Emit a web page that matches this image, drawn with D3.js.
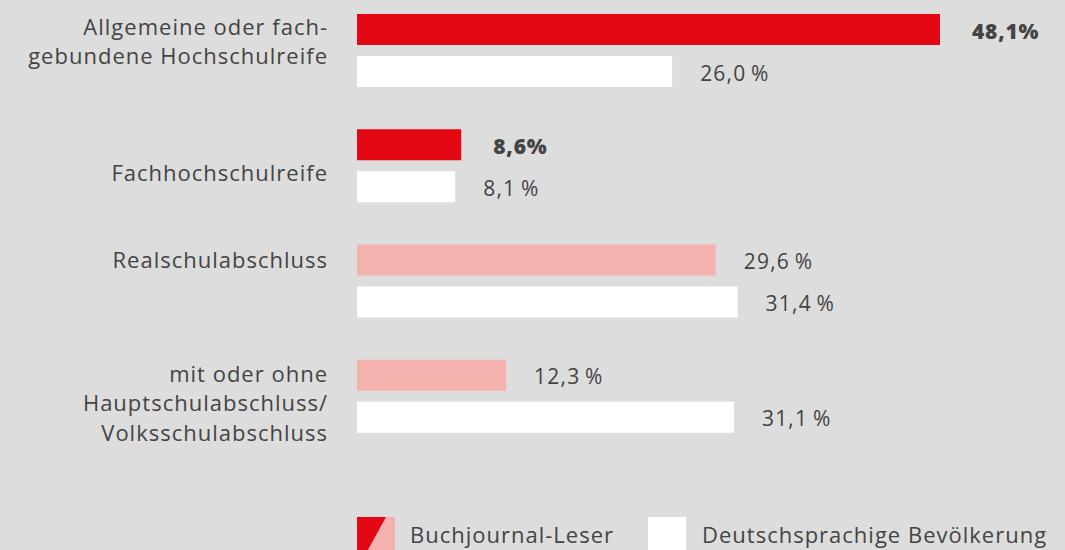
<!DOCTYPE html>
<html>
<head>
<meta charset="utf-8">
<script src="https://cdn.jsdelivr.net/npm/d3@7"></script>
<style>
  html, body { margin: 0; padding: 0; background: #dddddd; }
  svg { display: block; font-family: "Open Sans", sans-serif; }
</style>
</head>
<body>
<svg id="chart"></svg>
<script>
// Bildungsabschluss: Buchjournal-Leser vs. deutschsprachige Bevölkerung
const categories = [
  ["Allgemeine oder fach-", "gebundene Hochschulreife"],
  ["Fachhochschulreife"],
  ["Realschulabschluss"],
  ["mit oder ohne", "Hauptschulabschluss/", "Volksschulabschluss"]
];
const leserValues = [48.1, 8.6, 29.6, 12.3];
const bevoelkerungValues = [26.0, 8.1, 31.4, 31.1];
const highlighted = [true, true, false, false];
const seriesNames = ["Buchjournal-Leser", "Deutschsprachige Bevölkerung"];

const WIDTH = 1065;
const HEIGHT = 550;
const RED = '#e30613';
const PINK = '#f5b1ae';
const WHITE = '#ffffff';
const TEXT = '#444444';
const BAR_H = 31;
const LINE_H = 29.5;
// the labels in the original are not all centred on their group
const labelShift = [-9, 7, -21, 7];

const svg = d3.select('#chart')
  .attr('width', WIDTH)
  .attr('height', HEIGHT)
  .attr('viewBox', `0 0 ${WIDTH} ${HEIGHT}`);

const x = d3.scaleLinear()
  .domain([0, d3.max(leserValues)])
  .range([357, 940]);

const y = d3.scaleBand()
  .domain(d3.range(categories.length))
  .range([14, 475])
  .paddingInner(0);

const ySub = d3.scaleBand()
  .domain([0, 1])
  .range([0, 73])
  .paddingInner(11 / 42);

const fmt = (v, bold) => d3.format('.1f')(v).replace('.', ',') + (bold ? '' : '\u2009') + '%';

const rows = [];
categories.forEach((c, i) => {
  rows.push({group: i, series: 0, value: leserValues[i],
    fill: highlighted[i] ? RED : PINK, bold: highlighted[i]});
  rows.push({group: i, series: 1, value: bevoelkerungValues[i],
    fill: WHITE, bold: false});
});

const barY = d => y(d.group) + ySub(d.series);

// bars
svg.append('g')
  .selectAll('rect')
  .data(rows)
  .join('rect')
  .attr('x', x(0))
  .attr('y', barY)
  .attr('width', d => x(d.value) - x(0))
  .attr('height', BAR_H)
  .attr('fill', d => d.fill);

// value labels
svg.append('g')
  .selectAll('text')
  .data(rows)
  .join('text')
  .attr('x', d => x(d.value) + (d.bold ? 32 : 28))
  .attr('y', d => barY(d) + BAR_H / 2 + 9)
  .attr('fill', TEXT)
  .attr('font-size', 21)
  .attr('letter-spacing', d => d.bold ? 0.8 : 1.2)
  .attr('font-weight', d => d.bold ? 800 : 400)
  .text(d => fmt(d.value, d.bold));

// category labels
const cat = svg.append('g')
  .selectAll('text')
  .data(categories)
  .join('text')
  .attr('text-anchor', 'end')
  .attr('fill', TEXT)
  .attr('font-size', 22)
  .attr('letter-spacing', 1);

cat.each(function(lines, i) {
  const center = y(i) + 73 / 2 + labelShift[i];
  d3.select(this).selectAll('tspan')
    .data(lines)
    .join('tspan')
    .attr('x', 328)
    .attr('y', (l, j) => center + (j - (lines.length - 1) / 2) * LINE_H + 8)
    .text(l => l);
});

// legend
const legend = svg.append('g').attr('transform', 'translate(357,517)');
legend.append('rect')
  .attr('width', 38).attr('height', 40)
  .attr('fill', PINK);
legend.append('polygon')
  .attr('points', '0,0 29,0 7,40 0,40')
  .attr('fill', RED);
legend.append('text')
  .attr('x', 53).attr('y', 26)
  .attr('fill', TEXT)
  .attr('font-size', 22)
  .attr('letter-spacing', 1)
  .text(seriesNames[0]);
legend.append('rect')
  .attr('x', 291).attr('width', 38).attr('height', 40)
  .attr('fill', WHITE);
legend.append('text')
  .attr('x', 345).attr('y', 26)
  .attr('fill', TEXT)
  .attr('font-size', 22)
  .attr('letter-spacing', 1)
  .text(seriesNames[1]);
</script>
</body>
</html>
